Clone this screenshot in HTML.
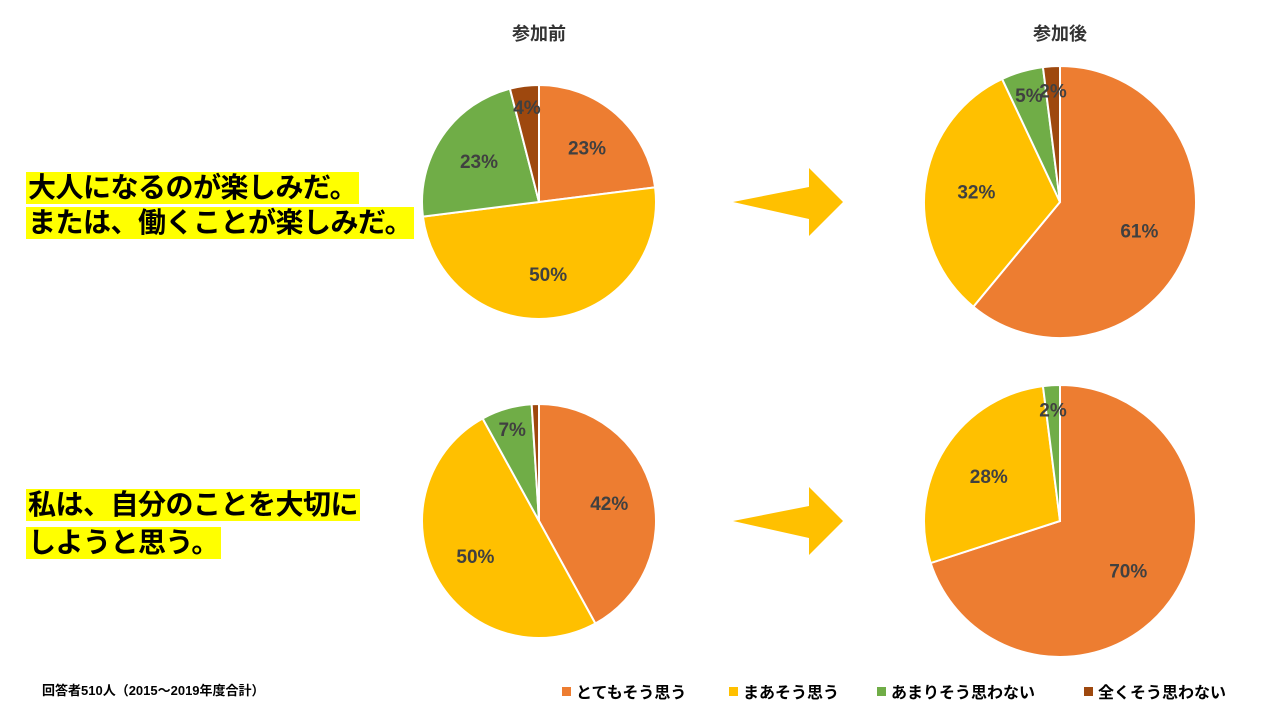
<!DOCTYPE html>
<html><head><meta charset="utf-8"><style>
body{margin:0;width:1280px;height:720px;background:#fff;overflow:hidden;font-family:"Liberation Sans","Noto Sans CJK JP",sans-serif;}
.hl{position:absolute;left:26px;background:#ffff00;font-weight:bold;font-size:28px;line-height:32px;color:#000;padding:0 2px;white-space:nowrap;letter-spacing:-0.5px}
</style></head><body>
<svg width="1280" height="720" style="position:absolute;left:0;top:0">
<g id="pies"></g>
<text x="539" y="40" text-anchor="middle" font-size="18" font-weight="bold" fill="#333">参加前</text>
<text x="1060" y="40" text-anchor="middle" font-size="18" font-weight="bold" fill="#333">参加後</text>
<polygon points="733,202 809,187 809,168 843,202 809,236 809,219" fill="#ffc000"/>
<polygon points="733,521 809,506 809,487 843,521 809,555 809,538" fill="#ffc000"/>
<text x="42" y="695" font-size="13" font-weight="bold" fill="#000">回答者510人（2015～2019年度合計）</text>
<g id="legend"></g>
</svg>
<div class="hl" style="top:172px">大人になるのが楽しみだ。</div>
<div class="hl" style="top:207px">または、働くことが楽しみだ。</div>
<div class="hl" style="top:489px">私は、自分のことを大切に</div>
<div class="hl" style="top:527px">しようと思う。</div>
<script>
const categories=["とてもそう思う","まあそう思う","あまりそう思わない","全くそう思わない"];
const colors=["#ed7d31","#ffc000","#70ad47","#9e480e"];
const q1Before=[23,50,23,4];
const q1After=[61,32,5,2];
const q2Before=[42,50,7,1];
const q2After=[70,28,2,0];
const pies=[{v:q1Before,cx:539,cy:202,r:117,n:"pie-q1-before"},{v:q1After,cx:1060,cy:202,r:136,n:"pie-q1-after"},{v:q2Before,cx:539,cy:521,r:117,n:"pie-q2-before"},{v:q2After,cx:1060,cy:521,r:136,n:"pie-q2-after"}];
const NS="http://www.w3.org/2000/svg";
const g=document.getElementById('pies');
function pt(cx,cy,r,a){return [cx+r*Math.sin(a),cy-r*Math.cos(a)];}
pies.forEach(p=>{
 const tot=p.v.reduce((a,b)=>a+b,0);let a0=0;
 const grp=document.createElementNS(NS,'g');
 
 
 g.appendChild(grp);
 p.v.forEach((v,i)=>{
  if(v<=0)return;
  const a1=a0+v/tot*2*Math.PI;
  const s=pt(p.cx,p.cy,p.r,a0),e=pt(p.cx,p.cy,p.r,a1);
  const path=document.createElementNS(NS,'path');
  path.setAttribute('d',`M${p.cx},${p.cy}L${s[0]},${s[1]}A${p.r},${p.r} 0 ${a1-a0>Math.PI?1:0} 1 ${e[0]},${e[1]}Z`);
  path.setAttribute('fill',colors[i]);path.setAttribute('stroke','#fff');path.setAttribute('stroke-width','2');
  
  
  grp.appendChild(path);
  if(v>=2){
   const m=pt(p.cx,p.cy,p.r*(v<10?0.82:0.62),(a0+a1)/2);
   const t=document.createElementNS(NS,'text');
   t.setAttribute('x',m[0]);t.setAttribute('y',m[1]+7);t.setAttribute('text-anchor','middle');
   t.setAttribute('font-size','19');t.setAttribute('font-weight','bold');t.setAttribute('fill','#404040');
   t.textContent=v+'%';
   
   
   grp.appendChild(t);
  }
  a0=a1;
 });
});
const lg=document.getElementById('legend');
const lx=[562,729,877,1084];
categories.forEach((c,i)=>{
 const r=document.createElementNS(NS,'rect');
 r.setAttribute('x',lx[i]);r.setAttribute('y',687);r.setAttribute('width',9);r.setAttribute('height',9);r.setAttribute('fill',colors[i]);
 
 
 lg.appendChild(r);
 const t=document.createElementNS(NS,'text');
 t.setAttribute('x',lx[i]+14);t.setAttribute('y',698);t.setAttribute('font-size','16');t.setAttribute('font-weight','bold');t.setAttribute('fill','#000');
 t.textContent=c;
 
 
 lg.appendChild(t);
});
</script>
</body></html>
